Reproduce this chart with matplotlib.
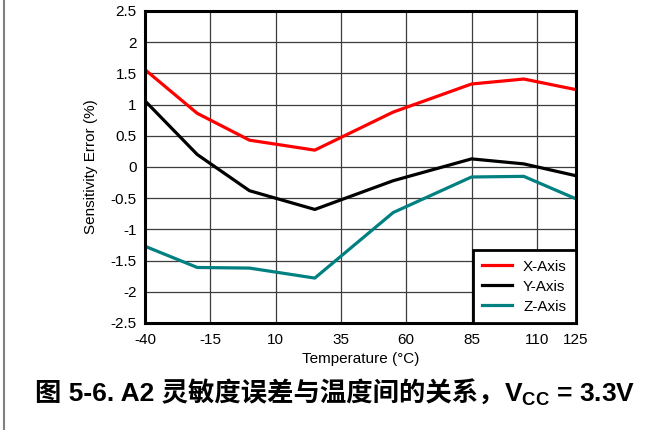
import matplotlib
matplotlib.use("Agg")
import matplotlib.pyplot as plt
from matplotlib.lines import Line2D

plt.rcParams['font.family'] = ['Liberation Sans', 'Noto Sans CJK SC', 'DejaVu Sans']
plt.rcParams['mathtext.fontset'] = 'custom'
plt.rcParams['mathtext.rm'] = 'Liberation Sans'
plt.rcParams['mathtext.bf'] = 'Liberation Sans:bold'

# Temperature sweep (°C) and sensitivity error (%) per axis
temperature = [-40, -20, 0, 25, 55, 85, 105, 125]
x_axis_err = [1.56, 0.86, 0.43, 0.27, 0.88, 1.33, 1.41, 1.24]
y_axis_err = [1.06, 0.20, -0.38, -0.68, -0.22, 0.13, 0.05, -0.14]
z_axis_err = [-1.27, -1.61, -1.62, -1.78, -0.73, -0.16, -0.15, -0.51]

x_ticks = [-40, -15, 10, 35, 60, 85, 110, 125]
y_ticks = [-2.5, -2, -1.5, -1, -0.5, 0, 0.5, 1, 1.5, 2, 2.5]
y_tick_labels = ['-2.5', '-2', '-1.5', '-1', '-0.5', '0', '0.5', '1', '1.5', '2', '2.5']

title_main = '图 5-6. A2 灵敏度误差与温度间的关系，'
title_tail = '$\\mathbf{V}_{\\mathbf{CC}}$ = 3.3V'

fig = plt.figure(figsize=(6.62, 4.30), dpi=100)
ax = fig.add_axes([145 / 662, 1 - 323 / 430, 431 / 662, 312 / 430])

ax.plot(temperature, x_axis_err, color='#FF0000', lw=2.3, label='X-Axis')
ax.plot(temperature, y_axis_err, color='#000000', lw=2.3, label='Y-Axis')
ax.plot(temperature, z_axis_err, color='#008080', lw=2.3, label='Z-Axis')

ax.set_xlim(-40, 125)
ax.set_ylim(-2.5, 2.5)
ax.set_xticks(x_ticks)
ax.set_xticklabels([str(t) for t in x_ticks])
ax.set_yticks(y_ticks)
ax.set_yticklabels(y_tick_labels)
ax.tick_params(length=0, labelsize=11)
ax.tick_params(axis='y', pad=6)
ax.tick_params(axis='x', pad=7)
ax.grid(True, color='#3c3c3c', lw=0.9)
ax.set_axisbelow(True)
for s in ax.spines.values():
    s.set_linewidth(2.2)
    s.set_color('black')

ax.set_xlabel('Temperature (°C)', fontsize=11, labelpad=4)
ax.set_ylabel('Sensitivity Error (%)', fontsize=11, labelpad=9)

leg = ax.legend(loc='lower right', bbox_to_anchor=(1.0, 0.0), fontsize=11,
                frameon=True, fancybox=False, edgecolor='black', framealpha=1,
                handlelength=2.0, handletextpad=0.7, labelspacing=0.4,
                borderpad=0.6, borderaxespad=0)
leg.get_frame().set_linewidth(2.0)

# Caption: CJK part with font fallback, then the V_CC part right after it
y_base = 1 - 402 / 430
t1 = fig.text(35 / 662, y_base, title_main, ha='left', va='baseline',
              fontsize=19, fontweight='bold')
fig.canvas.draw()
bb = t1.get_window_extent(fig.canvas.get_renderer())
fig.text(bb.x1 / fig.bbox.width, y_base, title_tail, ha='left', va='baseline',
         fontsize=19, fontweight='bold')

fig.add_artist(Line2D([4 / 662, 4 / 662], [0, 1], transform=fig.transFigure,
                      color='#808080', lw=1.5))

fig.savefig('out.png', dpi=100)
